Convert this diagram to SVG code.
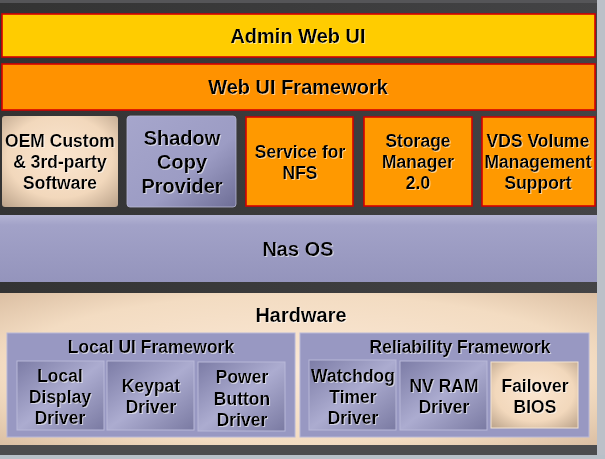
<svg xmlns="http://www.w3.org/2000/svg" width="605" height="459" viewBox="0 0 605 459">
<defs>
<linearGradient id="bg" x1="0" y1="0" x2="1" y2="0">
<stop offset="0" stop-color="#333333"/><stop offset="1" stop-color="#444446"/>
</linearGradient>
<radialGradient id="peach" cx="0.5" cy="0.45" r="0.75">
<stop offset="0" stop-color="#fbe6d0"/><stop offset="0.6" stop-color="#f2d8bc"/><stop offset="1" stop-color="#b8a088"/>
</radialGradient>
<radialGradient id="peachHw" cx="0.5" cy="0.5" r="0.7">
<stop offset="0" stop-color="#fbe8d6"/><stop offset="0.7" stop-color="#f3dcc2"/><stop offset="1" stop-color="#dcc0a4"/>
</radialGradient>
<linearGradient id="lav" x1="0" y1="0" x2="1" y2="1">
<stop offset="0" stop-color="#a6a6cc"/><stop offset="0.6" stop-color="#9c9cc4"/><stop offset="1" stop-color="#6e6e96"/>
</linearGradient>
<linearGradient id="lavNas" x1="0" y1="0" x2="0" y2="1">
<stop offset="0" stop-color="#b4b4d4"/><stop offset="0.15" stop-color="#a2a2c8"/><stop offset="1" stop-color="#9494bc"/>
</linearGradient>
<linearGradient id="drv" x1="0" y1="0" x2="1" y2="1">
<stop offset="0" stop-color="#7c7ca6"/><stop offset="0.5" stop-color="#acacd0"/><stop offset="1" stop-color="#7a7aa2"/>
</linearGradient>
<filter id="glow" x="-10%" y="-20%" width="120%" height="140%">
<feDropShadow dx="1" dy="1" stdDeviation="0.6" flood-color="#ffffff" flood-opacity="0.55"/>
</filter>
</defs>
<style>
text{font-family:"Liberation Sans",Arial,sans-serif;font-weight:bold;fill:#000;text-anchor:middle;filter:url(#glow)}
.t20{font-size:20px}
.t17{font-size:17.5px}
.red{stroke:#d40000;stroke-width:1.6}
.drv{fill:url(#drv);stroke:#b8b8d8;stroke-width:1}
.frame{fill:#9898c2;stroke:#b8b8d8;stroke-width:1}
</style>
<rect x="0" y="0" width="605" height="459" fill="url(#bg)"/>
<rect x="0" y="0" width="605" height="3" fill="#555558"/>
<rect x="597" y="0" width="8" height="459" fill="#bcc0c8"/>
<rect x="0" y="455" width="605" height="4" fill="#b8c0c8"/>
<rect x="0" y="445" width="597" height="10" fill="#4c4c4e"/>

<g id="admin-web-ui">
<rect x="2" y="14" width="593" height="43" fill="#ffcc00" class="red"/>
<text class="t20" x="298" y="43">Admin Web UI</text>
</g>
<g id="web-ui-framework">
<rect x="2" y="64" width="593" height="46" fill="#ff9200" class="red"/>
<text class="t20" x="298" y="94">Web UI Framework</text>
</g>
<g id="oem">
<rect x="2" y="116" width="116" height="91" rx="3" fill="url(#peach)"/>
<text class="t17" x="60" y="147">OEM Custom</text>
<text class="t17" x="60" y="168">&amp; 3rd-party</text>
<text class="t17" x="60" y="189">Software</text>
</g>
<g id="shadow-copy">
<rect x="127" y="116" width="109" height="91" rx="3" fill="url(#lav)" stroke="#b8b8d4" stroke-width="0.8"/>
<text class="t20" x="182" y="145">Shadow</text>
<text class="t20" x="182" y="169">Copy</text>
<text class="t20" x="182" y="193">Provider</text>
</g>
<g id="nfs">
<rect x="246" y="117" width="107" height="89" fill="#ff9900" class="red"/>
<text class="t17" x="300" y="158">Service for</text>
<text class="t17" x="300" y="179">NFS</text>
</g>
<g id="storage-manager">
<rect x="364" y="117" width="108" height="89" fill="#ff9900" class="red"/>
<text class="t17" x="418" y="147">Storage</text>
<text class="t17" x="418" y="168">Manager</text>
<text class="t17" x="418" y="189">2.0</text>
</g>
<g id="vds">
<rect x="482" y="117" width="113" height="89" fill="#ff9900" class="red"/>
<text class="t17" x="538" y="147">VDS Volume</text>
<text class="t17" x="538" y="168">Management</text>
<text class="t17" x="538" y="189">Support</text>
</g>
<g id="nas-os">
<rect x="0" y="215" width="597" height="67" fill="url(#lavNas)"/>
<text class="t20" x="298" y="256">Nas OS</text>
</g>
<g id="hardware">
<rect x="0" y="293" width="597" height="152" fill="url(#peachHw)"/>
<text class="t20" x="301" y="322">Hardware</text>
</g>
<g id="local-ui-framework">
<rect x="7" y="333" width="288" height="104" class="frame"/>
<text class="t17" x="151" y="353">Local UI Framework</text>
</g>
<g id="reliability-framework">
<rect x="300" y="333" width="289" height="104" class="frame"/>
<text class="t17" x="460" y="353">Reliability Framework</text>
</g>
<g id="local-display-driver">
<rect x="17" y="361" width="87" height="69" class="drv"/>
<text class="t17" x="60" y="381.5">Local</text>
<text class="t17" x="60" y="403">Display</text>
<text class="t17" x="60" y="424">Driver</text>
</g>
<g id="keypat-driver">
<rect x="107" y="361" width="87" height="69" class="drv"/>
<text class="t17" x="151" y="392">Keypat</text>
<text class="t17" x="151" y="413">Driver</text>
</g>
<g id="power-button-driver">
<rect x="198" y="362" width="87" height="69" class="drv"/>
<text class="t17" x="242" y="383">Power</text>
<text class="t17" x="242" y="405">Button</text>
<text class="t17" x="242" y="426">Driver</text>
</g>
<g id="watchdog-timer-driver">
<rect x="309" y="360" width="87" height="70" class="drv"/>
<text class="t17" x="353" y="382">Watchdog</text>
<text class="t17" x="353" y="403">Timer</text>
<text class="t17" x="353" y="424">Driver</text>
</g>
<g id="nv-ram-driver">
<rect x="400" y="361" width="87" height="69" class="drv"/>
<text class="t17" x="444" y="392">NV RAM</text>
<text class="t17" x="444" y="413">Driver</text>
</g>
<g id="failover-bios">
<rect x="491" y="362" width="87" height="66" fill="url(#peach)" stroke="#f4e4d0" stroke-width="1"/>
<text class="t17" x="535" y="392">Failover</text>
<text class="t17" x="535" y="413">BIOS</text>
</g>
<g id="connectors"/>
</svg>
